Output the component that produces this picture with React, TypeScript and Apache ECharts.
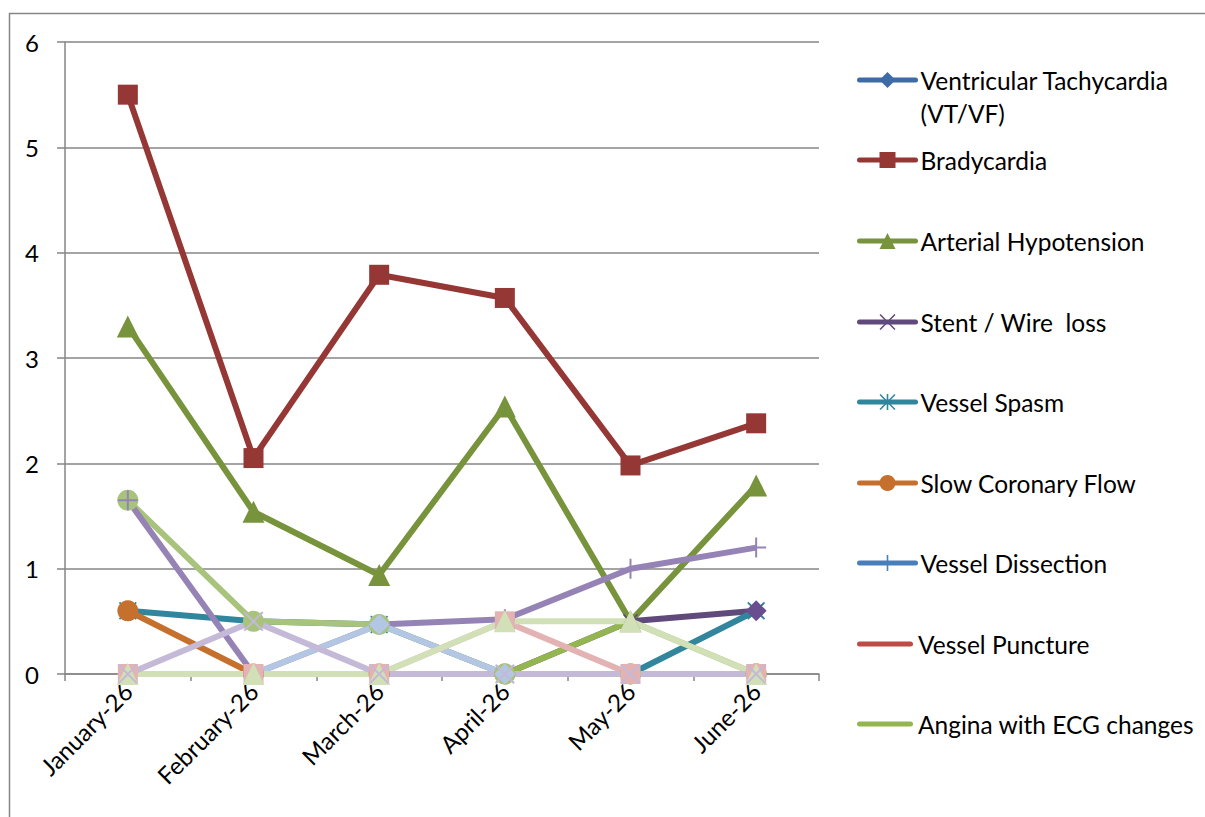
import React, { useEffect, useRef } from "react";
import * as echarts from "echarts";

const categories = ["January-26", "February-26", "March-26", "April-26", "May-26", "June-26"];
const yTicks = [0, 1, 2, 3, 4, 5, 6];

// Legend series
const vt = [0, 0, 0, 0, 0, 0];
const bradycardia = [5.5, 2.05, 3.79, 3.57, 1.98, 2.38];
const hypotension = [3.3, 1.54, 0.94, 2.54, 0.5, 1.79];
const stentWire = [0, 0, 0, 0, 0.5, 0.6];
const spasm = [0.6, 0.5, 0.47, 0, 0, 0.6];
const slowFlow = [0.6, 0, 0, 0, 0, 0];
const dissection = [0, 0, 0, 0, 0, 0];
const puncture = [0, 0, 0, 0, 0, 0];
const angina = [0, 0, 0, 0, 0.5, 0];
// Further series drawn in the chart but not listed in its legend
const extraCircle = [1.65, 0.5, 0.47, 0, 0, 0];
const extraDiamond = [null, null, null, null, null, 0.6];
const extraPlus = [1.65, 0, 0.47, 0.52, 1.0, 1.2];
const extraLightBlue = [0, 0, 0.47, 0, 0, 0];
const extraPink = [0, 0, 0, 0.5, 0, 0];
const extraPaleGreen = [0, 0, 0, 0.5, 0.5, 0];
const extraLilac = [0, 0.5, 0, 0, 0, 0];

const PLUS = "path://M9,0H11V9H20V11H11V20H9V11H0V9H9Z";
const XMARK =
  "path://M1.4,0L10,8.6L18.6,0L20,1.4L11.4,10L20,18.6L18.6,20L10,11.4L1.4,20L0,18.6L8.6,10L0,1.4Z";
const STAR =
  "path://M1.4,0L10,8.6L18.6,0L20,1.4L11.4,10L20,18.6L18.6,20L10,11.4L1.4,20L0,18.6L8.6,10L0,1.4ZM9,0H11V20H9Z";
const BAR_ICON = "path://M2.5,0H53.5A2.5,2.5,0,0,1,53.5,5H2.5A2.5,2.5,0,0,1,2.5,0Z";

const FONT = "Lato, 'Open Sans', sans-serif";
const GRAY = "#868686";

type S = {
  name: string;
  data: (number | null)[];
  color: string;
  symbol: string;
  size: number;
  legendY?: number;
};

const seriesDefs: S[] = [
  { name: "Ventricular Tachycardia (VT/VF)", data: vt, color: "#3E6BA6", symbol: "diamond", size: 18, legendY: 80 },
  { name: "Bradycardia", data: bradycardia, color: "#953735", symbol: "rect", size: 20, legendY: 160 },
  { name: "Arterial Hypotension", data: hypotension, color: "#77933C", symbol: "triangle", size: 22, legendY: 241 },
  { name: "Stent / Wire  loss", data: stentWire, color: "#604A7B", symbol: XMARK, size: 15, legendY: 322 },
  { name: "Vessel Spasm", data: spasm, color: "#31859C", symbol: STAR, size: 18, legendY: 402 },
  { name: "Slow Coronary Flow", data: slowFlow, color: "#C6702E", symbol: "circle", size: 21, legendY: 483 },
  { name: "Vessel Dissection", data: dissection, color: "#4A7EBB", symbol: PLUS, size: 16, legendY: 563 },
  { name: "Vessel Puncture", data: puncture, color: "#BE4B48", symbol: "none", size: 0, legendY: 644 },
  { name: "Angina with ECG changes", data: angina, color: "#94B650", symbol: "none", size: 0, legendY: 724 },
  { name: "s10", data: extraCircle, color: "#A8C47C", symbol: "circle", size: 21 },
  { name: "s11", data: extraDiamond, color: "#684E8E", symbol: "diamond", size: 21 },
  { name: "s12", data: extraPlus, color: "#9683B6", symbol: PLUS, size: 20 },
  { name: "s13", data: extraLightBlue, color: "#B3C6E3", symbol: "diamond", size: 21 },
  { name: "s14", data: extraPink, color: "#E2B3B2", symbol: "rect", size: 20 },
  { name: "s15", data: extraPaleGreen, color: "#D2E0B8", symbol: "triangle", size: 22 },
  { name: "s16", data: extraLilac, color: "#C4B9D6", symbol: XMARK, size: 20 },
];

export default function App() {
  const ref = useRef<HTMLDivElement>(null);
  useEffect(() => {
    if (!ref.current) return;
    const chart = echarts.init(ref.current, undefined, { renderer: "svg" });

    const legends = seriesDefs
      .filter((s) => s.legendY !== undefined)
      .map((s, i) => {
        const two = i === 0;
        const item: any = { name: s.name };
        if (s.symbol === "none") item.icon = BAR_ICON;
        return {
          data: [item],
          orient: "vertical",
          left: 857,
          top: two ? (s.legendY as number) - 49.5 : (s.legendY as number) - 13,
          padding: 0,
          itemWidth: 56,
          itemHeight: 20,
          selectedMode: false,
          lineStyle: { width: 5, cap: "round" },
          formatter: two ? () => "\nVentricular Tachycardia\n(VT/VF)" : undefined,
          textStyle: {
            fontFamily: FONT,
            fontSize: 24.5,
            color: "#000",
            lineHeight: two ? 33 : 26,
          },
        };
      });

    chart.setOption({
      animation: false,
      backgroundColor: "#fff",
      grid: { left: 65, right: 386, top: 42, bottom: 143, containLabel: false },
      graphic: [
        {
          type: "rect",
          silent: true,
          shape: { x: 9.5, y: 13.5, width: 1300, height: 900 },
          style: { fill: "none", stroke: GRAY, lineWidth: 1.5 },
          z: -10,
        },
      ],
      legend: legends,
      xAxis: {
        type: "category",
        data: categories,
        boundaryGap: true,
        axisLine: { lineStyle: { color: GRAY, width: 1.5 } },
        axisTick: { show: true, length: 7, lineStyle: { color: GRAY, width: 1.5 } },
        axisLabel: {
          rotate: 45,
          margin: 13,
          fontFamily: FONT,
          fontSize: 24,
          color: "#000",
        },
        splitLine: { show: false },
      },
      yAxis: {
        type: "value",
        min: yTicks[0],
        max: yTicks[yTicks.length - 1],
        interval: 1,
        axisLine: { show: true, lineStyle: { color: GRAY, width: 1.5 } },
        axisTick: { show: true, length: 8, lineStyle: { color: GRAY, width: 1.5 } },
        axisLabel: { margin: 26, fontFamily: FONT, fontSize: 24, color: "#000" },
        splitLine: { show: true, lineStyle: { color: GRAY, width: 1.5 } },
      },
      series: seriesDefs.map((s) => ({
        name: s.name,
        type: "line",
        data: s.data,
        symbol: s.symbol,
        symbolSize: s.size,
        showSymbol: s.symbol !== "none",
        showAllSymbol: true,
        connectNulls: false,
        silent: true,
        lineStyle: { color: s.color, width: 6 },
        itemStyle: { color: s.color },
        emphasis: { disabled: true },
      })),
    });
    return () => chart.dispose();
  }, []);
  return (
    <div
      ref={ref}
      style={{ position: "absolute", left: 0, top: 0, width: 1205, height: 817 }}
    />
  );
}
